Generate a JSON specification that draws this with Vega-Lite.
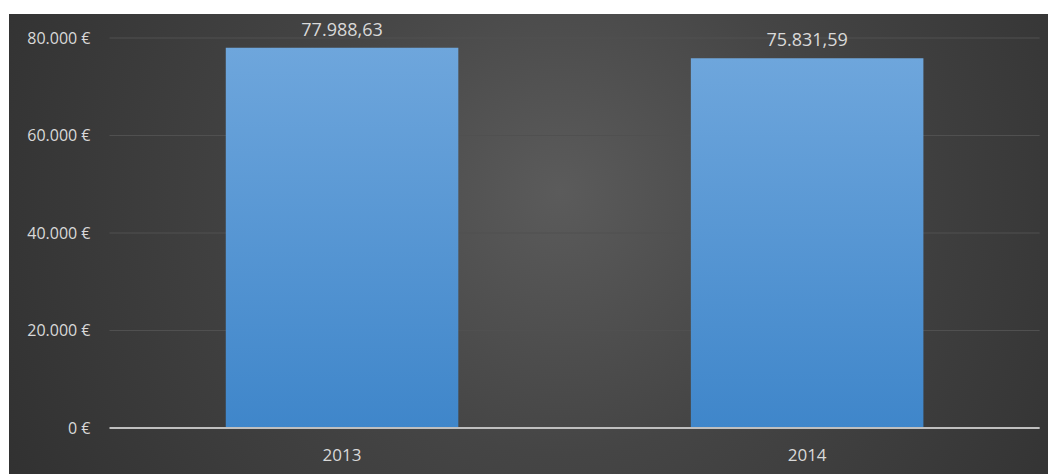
{
  "$schema": "https://vega.github.io/schema/vega-lite/v6.json",
  "width": 1039,
  "height": 460,
  "autosize": {"type": "none"},
  "padding": {"left": 9, "top": 14, "right": 0, "bottom": 0},
  "background": "#ffffff",
  "config": {
    "font": "Open Sans",
    "locale": {
      "number": {"decimal": ",", "thousands": ".", "grouping": [3], "currency": ["", " €"]}
    },
    "axisX": {
      "labelAngle": 0,
      "offset": -30,
      "ticks": false,
      "domain": false,
      "grid": false,
      "labelPadding": 3,
      "labelFontSize": 17,
      "labelColor": "#d9d9d9"
    },
    "axisY": {
      "format": "$,.0f",
      "offset": -83,
      "ticks": false,
      "domain": false,
      "grid": false,
      "labelPadding": 2,
      "labelFontSize": 16,
      "labelColor": "#d9d9d9"
    },
    "view": {
      "stroke": null,
      "fill": {
        "gradient": "radial",
        "x1": 0.53, "y1": 0.45, "r1": 0,
        "x2": 0.53, "y2": 0.45, "r2": 0.72,
        "stops": [
          {"offset": 0, "color": "#5b5b5b"},
          {"offset": 0.35, "color": "#454545"},
          {"offset": 1, "color": "#2a2a2a"}
        ]
      }
    }
  },
  "data": {"values": [{"year": "2013", "amount": 77988.63}, {"year": "2014", "amount": 75831.59}]},
  "layer": [
    {
      "data": {"values": [{"level": 20000}, {"level": 40000}, {"level": 60000}, {"level": 80000}]},
      "mark": {"type": "rule", "color": "#505050", "strokeWidth": 1},
      "encoding": {
        "y": {"field": "level", "type": "quantitative", "title": null, "axis": {"values": [0, 20000, 40000, 60000, 80000], "bandPosition": 0.5}},
        "x": {"datum": "2013", "type": "nominal", "bandPosition": -0.5, "title": null, "axis": {"bandPosition": 0.5}},
        "x2": {"datum": "2014", "bandPosition": 1.5}
      }
    },
    {
      "mark": {
        "type": "bar",
        "fill": {
          "gradient": "linear",
          "x1": 0, "y1": 0, "x2": 0, "y2": 1,
          "stops": [
            {"offset": 0, "color": "#6ea6dc"},
            {"offset": 1, "color": "#3f86ca"}
          ]
        }
      },
      "encoding": {
        "x": {
          "field": "year", "type": "nominal", "title": null,
          "scale": {"paddingInner": 0.5, "paddingOuter": 0.367, "align": 0.635},
          "axis": {"bandPosition": 0.5}
        },
        "y": {
          "field": "amount", "type": "quantitative", "title": null,
          "scale": {"domain": [-9435.9, 84923.1], "nice": false, "zero": false},
          "axis": {"values": [0, 20000, 40000, 60000, 80000], "bandPosition": 0.5}
        }
      }
    },
    {
      "mark": {"type": "text", "baseline": "bottom", "dy": -8, "fontSize": 18, "color": "#d9d9d9"},
      "encoding": {
        "x": {"field": "year", "type": "nominal", "title": null, "axis": {"bandPosition": 0.5}},
        "y": {"field": "amount", "type": "quantitative", "title": null, "axis": {"values": [0, 20000, 40000, 60000, 80000], "bandPosition": 0.5}},
        "text": {"field": "amount", "type": "quantitative", "format": ",.2f"}
      }
    },
    {
      "data": {"values": [{"level": 0}]},
      "mark": {"type": "rule", "color": "#bfbfbf", "strokeWidth": 2},
      "encoding": {
        "y": {"field": "level", "type": "quantitative", "title": null, "axis": {"values": [0, 20000, 40000, 60000, 80000], "bandPosition": 0.5}},
        "x": {"datum": "2013", "type": "nominal", "bandPosition": -0.5, "title": null, "axis": {"bandPosition": 0.5}},
        "x2": {"datum": "2014", "bandPosition": 1.5}
      }
    }
  ]
}
